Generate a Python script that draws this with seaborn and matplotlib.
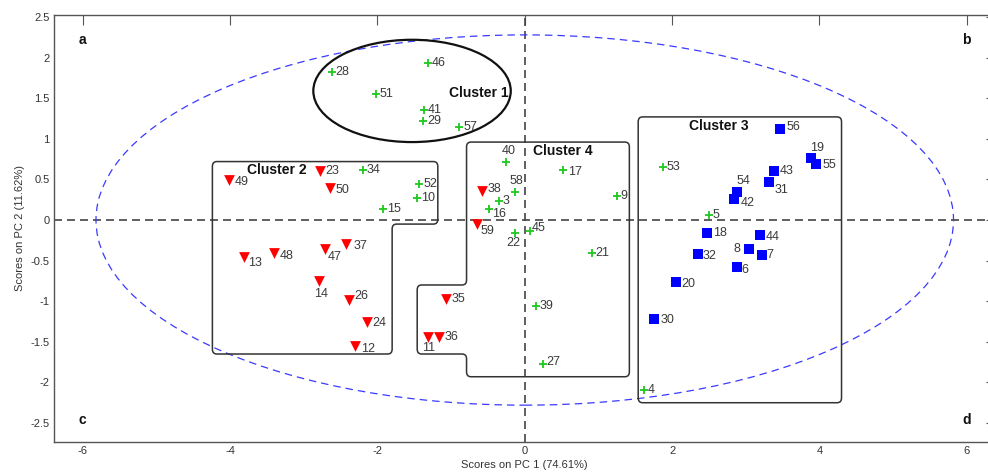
import numpy as np
import pandas as pd
import matplotlib
matplotlib.use("Agg")
import matplotlib.pyplot as plt
import seaborn as sns
from matplotlib.path import Path
from matplotlib.patches import PathPatch, Ellipse
from matplotlib.ticker import FuncFormatter, MultipleLocator

# ---------------- DATA ----------------
green_labels = [28, 46, 51, 41, 29, 57, 34, 52, 10, 15, 40, 17, 58, 3, 16, 9, 45, 22, 21, 39, 27, 53, 5, 4]
green_x = [-2.62, -1.32, -2.02, -1.37, -1.38, -0.89, -2.20, -1.43, -1.46, -1.93, -0.25, 0.52,
           -0.13, -0.35, -0.48, 1.25, 0.07, -0.13, 0.91, 0.15, 0.25, 1.87, 2.50, 1.62]
green_y = [1.82, 1.94, 1.55, 1.35, 1.22, 1.15, 0.61, 0.44, 0.27, 0.14, 0.72, 0.62,
           0.34, 0.23, 0.135, 0.30, -0.135, -0.16, -0.41, -1.06, -1.77, 0.65, 0.06, -2.09]

red_labels = [49, 23, 50, 37, 13, 48, 47, 14, 26, 24, 12, 38, 59, 35, 11, 36]
red_x = [-4.01, -2.78, -2.64, -2.42, -3.81, -3.41, -2.71, -2.79, -2.39, -2.14, -2.30,
         -0.58, -0.65, -1.07, -1.32, -1.16]
red_y = [0.49, 0.60, 0.39, -0.29, -0.46, -0.41, -0.36, -0.75, -0.99, -1.25, -1.55,
         0.36, -0.05, -0.97, -1.44, -1.44]

blue_labels = [56, 19, 55, 43, 31, 54, 42, 18, 44, 8, 7, 32, 6, 20, 30]
blue_x = [3.47, 3.88, 3.96, 3.38, 3.32, 2.88, 2.84, 2.47, 3.19, 3.04, 3.22, 2.35, 2.88, 2.05, 1.76]
blue_y = [1.12, 0.77, 0.69, 0.60, 0.47, 0.35, 0.26, -0.16, -0.19, -0.36, -0.43, -0.42, -0.58, -0.76, -1.22]

# cluster outlines (PC1, PC2)
cluster1_center = (-1.53, 1.59)
cluster1_size = (2.68, 1.26)
cluster2_outline = [(-4.24, 0.72), (-1.18, 0.72), (-1.18, -0.05), (-1.80, -0.05),
                    (-1.80, -1.65), (-4.24, -1.65)]
cluster3_outline = [(1.54, 1.27), (4.30, 1.27), (4.30, -2.25), (1.54, -2.25)]
cluster4_outline = [(-0.79, 0.96), (1.42, 0.96), (1.42, -1.93), (-0.79, -1.93), (-0.79, -1.65),
                    (-1.46, -1.65), (-1.46, -0.80), (-0.79, -0.80)]
cluster_names = ["Cluster 1", "Cluster 2", "Cluster 3", "Cluster 4"]
cluster_name_x = [-0.63, -3.37, 2.63, 0.52]
cluster_name_y = [1.56, 0.62, 1.16, 0.85]

# 95% confidence ellipse semi-axes
conf_a, conf_b = 5.82, 2.28

# label offsets (pixels) for labels not sitting right of their marker
offsets = {
    40: (2, 11, 'center'), 58: (1, 11, 'center'), 22: (-2, -10, 'center'), 59: (4, -7, 'left'),
    16: (3, -5, 'left'), 45: (2, 3, 'left'), 11: (1, -11, 'center'), 14: (2, -13, 'center'),
    13: (4, -6, 'left'), 47: (3, -8, 'left'), 12: (6, -3, 'left'), 26: (6, 4, 'left'),
    24: (5, -1, 'left'), 37: (7, -2, 'left'), 48: (6, -3, 'left'), 49: (5, -2, 'left'),
    23: (5, 0, 'left'), 50: (5, -2, 'left'), 19: (6, 10, 'center'), 54: (7, 11, 'center'),
    42: (7, -4, 'left'), 31: (5, -8, 'left'), 6: (4, -3, 'left'), 8: (-8, 0, 'right'),
    55: (6, -1, 'left'), 56: (6, 2, 'left'), 18: (6, 0, 'left'), 44: (6, -2, 'left'),
    32: (5, -2, 'left'), 20: (6, -2, 'left'), 30: (6, -1, 'left'), 43: (6, 0, 'left'),
    38: (6, 2, 'left'), 35: (6, 0, 'left'), 17: (5, -2, 'left'), 27: (3, 2, 'left'),
    7: (4, 0, 'left'), 36: (5, 0, 'left'),
}

df = pd.concat([
    pd.DataFrame({"label": green_labels, "x": green_x, "y": green_y, "group": "green"}),
    pd.DataFrame({"label": red_labels, "x": red_x, "y": red_y, "group": "red"}),
    pd.DataFrame({"label": blue_labels, "x": blue_x, "y": blue_y, "group": "blue"}),
], ignore_index=True)

# ---------------- STYLE ----------------
sns.set_style("white")
plt.rcParams['font.family'] = ['Liberation Sans', 'DejaVu Sans']
plt.rcParams['axes.unicode_minus'] = False

fig = plt.figure(figsize=(9.88, 4.74), dpi=100)
ax = fig.add_axes([54 / 988, 32.3 / 474, 941.5 / 988, 426.7 / 474])


def rounded_path(verts, rx, ry):
    pts, codes = [], []
    n = len(verts)
    for i in range(n):
        p0 = np.array(verts[i - 1], float)
        p1 = np.array(verts[i], float)
        p2 = np.array(verts[(i + 1) % n], float)
        d1, d2 = p0 - p1, p2 - p1
        a = p1 + d1 / np.hypot(d1[0] / rx, d1[1] / ry)
        b = p1 + d2 / np.hypot(d2[0] / rx, d2[1] / ry)
        pts.append(a)
        codes.append(Path.MOVETO if i == 0 else Path.LINETO)
        pts += [p1, b]
        codes += [Path.CURVE3, Path.CURVE3]
    pts.append(pts[0])
    codes.append(Path.CLOSEPOLY)
    return Path(pts, codes)


# zero lines
ax.axhline(0, color='#444444', lw=1.2, ls=(0, (4.8, 3)), zorder=1)
ax.axvline(0, color='#444444', lw=1.2, ls=(0, (4.8, 3)), zorder=1)

# confidence ellipse
ax.add_patch(Ellipse((0, 0), 2 * conf_a, 2 * conf_b, fill=False, ec='#3a3aff',
                     lw=0.9, ls=(0, (6, 4)), zorder=1))

# clusters
ax.add_patch(Ellipse(cluster1_center, cluster1_size[0], cluster1_size[1], fill=False,
                     ec='#111111', lw=1.6, zorder=2))
for outline in [cluster2_outline, cluster3_outline, cluster4_outline]:
    ax.add_patch(PathPatch(rounded_path(outline, 0.06, 0.06), fill=False,
                           ec='#333333', lw=1.1, zorder=2))
for name, cx, cy in zip(cluster_names, cluster_name_x, cluster_name_y):
    ax.text(cx, cy, name, fontsize=10, fontweight='bold', ha='center', va='center',
            color='#111111', zorder=4)

# ---------------- POINTS ----------------
sns.scatterplot(data=df[df.group == "green"], x="x", y="y", marker='+', color='#1ec81e',
                s=40, linewidth=1.3, ax=ax, zorder=3, legend=False)
sns.scatterplot(data=df[df.group == "red"], x="x", y="y", marker='v', color='#ff0000',
                s=60, linewidth=0, ax=ax, zorder=3, legend=False)
sns.scatterplot(data=df[df.group == "blue"], x="x", y="y", marker='s', color='#0000ff',
                s=45, linewidth=0, ax=ax, zorder=3, legend=False)

for _, row in df.iterrows():
    dx, dy, ha = offsets.get(int(row.label), (4, 0, 'left'))
    ax.annotate(str(int(row.label)), (row.x, row.y), xytext=(dx, dy), textcoords='offset pixels',
                ha=ha, va='center', fontsize=9, color='#3a3a3a', zorder=4)

# corner letters
for letter, lx, ly in [("a", -6, 2.22), ("b", 6, 2.22), ("c", -6, -2.46), ("d", 6, -2.46)]:
    ax.text(lx, ly, letter, fontsize=10, fontweight='bold', ha='center', va='center', color='#111111')

# ---------------- AXES ----------------
ax.set_xlim(-6.39, 6.39)
ax.set_ylim(-2.73, 2.525)
ax.xaxis.set_major_locator(MultipleLocator(2))
ax.yaxis.set_major_locator(MultipleLocator(0.5))
ax.xaxis.set_major_formatter(FuncFormatter(lambda v, p: f"{v:g}"))
ax.yaxis.set_major_formatter(FuncFormatter(lambda v, p: f"{v:g}"))
ax.tick_params(direction='in', top=True, right=True, length=7, width=0.8, color='#555555',
               labelsize=8, labelcolor='#333333', pad=3)
for sp in ax.spines.values():
    sp.set_color('#555555')
    sp.set_linewidth(1.0)
ax.set_xlabel("Scores on PC 1 (74.61%)", fontsize=8, color='#333333', labelpad=3)
ax.set_ylabel("Scores on PC 2 (11.62%)", fontsize=8, color='#333333', labelpad=4)

fig.savefig("out.png", dpi=100)
